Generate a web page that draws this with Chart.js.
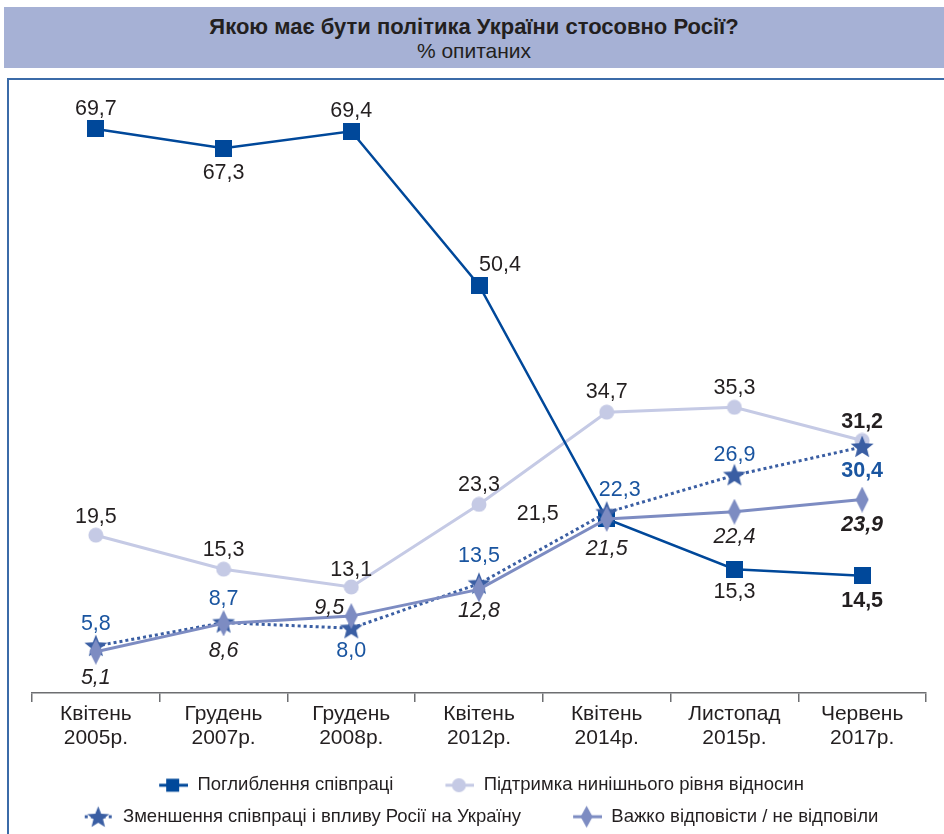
<!DOCTYPE html>
<html>
<head>
<meta charset="utf-8">
<script src="https://cdn.jsdelivr.net/npm/chart.js@4.4.0/dist/chart.umd.min.js"></script>
<style>
    html, body { margin: 0; padding: 0; background: #fff; }
    #page { position: relative; width: 944px; height: 834px; overflow: hidden; font-family: 'Liberation Sans', Arial, sans-serif; color: #231f20; }
    #head { position: absolute; left: 4px; top: 7px; width: 940px; height: 61px; background: #a6b1d5; text-align: center; }
    #head .t { position: absolute; left: 0; right: 0; top: 8px; font-weight: bold; font-size: 22px; line-height: 24px; }
    #head .s { position: absolute; left: 0; right: 0; top: 32px; font-size: 21px; line-height: 24px; }
    #frame { position: absolute; left: 7px; top: 78px; width: 980px; height: 820px; border-left: 2px solid #3b6ba8; border-top: 2px solid #3b6ba8; }
    #wrap { position: absolute; left: 0; top: 0; width: 944px; height: 836px; }
</style>
</head>
<body>
<div id="page">
    <div id="head">
        <div class="t">Якою має бути політика України стосовно Росії?</div>
        <div class="s">% опитаних</div>
    </div>
    <div id="frame"></div>
    <div id="wrap"><canvas id="policyChart"></canvas></div>
</div>
<script>
// --- DATA ---
const categories = [
    ['Квітень', '2005р.'], ['Грудень', '2007р.'], ['Грудень', '2008р.'], ['Квітень', '2012р.'],
    ['Квітень', '2014р.'], ['Листопад', '2015р.'], ['Червень', '2017р.']
];
const deepenCoop = [69.7, 67.3, 69.4, 50.4, 21.5, 15.3, 14.5];
const keepLevel = [19.5, 15.3, 13.1, 23.3, 34.7, 35.3, 31.2];
const reduceCoop = [5.8, 8.7, 8.0, 13.5, 22.3, 26.9, 30.4];
const hardToSay = [5.1, 8.6, 9.5, 12.8, 21.5, 22.4, 23.9];
const seriesNames = [
    'Поглиблення співпраці',
    'Підтримка нинішнього рівня відносин',
    'Зменшення співпраці і впливу Росії на Україну',
    'Важко відповісти / не відповіли'
];

const C_DEEP = '#00489a';
const C_KEEP = '#c5cae5';
const C_REDUCE = '#3a5ea3';
const C_HARD = '#7d8cc2';
const TEXT = '#231f20';
const FONT = "'Liberation Sans', Arial, sans-serif";

// --- marker shapes drawn into small canvases (used as pointStyle) ---
function makeCanvas(w, h, draw) {
    const c = document.createElement('canvas');
    c.width = w; c.height = h;
    draw(c.getContext('2d'));
    return c;
}
function square(ctx, cx, cy, s, color) {
    ctx.fillStyle = color;
    ctx.fillRect(cx - s / 2, cy - s / 2, s, s);
}
function circle(ctx, cx, cy, r, color) {
    ctx.fillStyle = color;
    ctx.beginPath(); ctx.arc(cx, cy, r, 0, Math.PI * 2); ctx.fill();
}
function star(ctx, cx, cy, ro, ri, color) {
    ctx.fillStyle = color;
    ctx.beginPath();
    for (let i = 0; i < 10; i++) {
        const r = i % 2 ? ri : ro;
        const a = -Math.PI / 2 + i * Math.PI / 5;
        ctx.lineTo(cx + r * Math.cos(a), cy + r * Math.sin(a));
    }
    ctx.closePath(); ctx.fill();
}
function diamond(ctx, cx, cy, w, h, color) {
    ctx.fillStyle = color;
    ctx.beginPath();
    ctx.moveTo(cx, cy - h / 2); ctx.lineTo(cx + w / 2, cy);
    ctx.lineTo(cx, cy + h / 2); ctx.lineTo(cx - w / 2, cy);
    ctx.closePath(); ctx.fill();
}

const ptSquare = makeCanvas(17, 17, ctx => square(ctx, 8.5, 8.5, 17, C_DEEP));
const ptCircle = makeCanvas(16, 16, ctx => circle(ctx, 8, 8, 7.5, C_KEEP));
const ptStar = makeCanvas(26, 26, ctx => star(ctx, 13, 13.5, 12, 5.2, C_REDUCE));
const ptDiamond = makeCanvas(14, 26, ctx => diamond(ctx, 7, 13, 13, 26, C_HARD));

// legend swatches: empty gap on the left, then line + marker
const LG_W = 68, LG_H = 24, LG_GAP = 37;
function legendSwatch(color, dashed, drawMarker) {
    return makeCanvas(LG_W, LG_H, ctx => {
        ctx.strokeStyle = color;
        ctx.lineWidth = 3;
        if (dashed) ctx.setLineDash([3, 3]);
        ctx.beginPath(); ctx.moveTo(LG_GAP + 2, LG_H / 2); ctx.lineTo(LG_W, LG_H / 2); ctx.stroke();
        ctx.setLineDash([]);
        drawMarker(ctx, LG_GAP + (LG_W - LG_GAP) / 2, LG_H / 2);
    });
}
const legendIcons = [
    legendSwatch(C_DEEP, false, (ctx, x, y) => square(ctx, x, y, 13, C_DEEP)),
    legendSwatch(C_KEEP, false, (ctx, x, y) => circle(ctx, x, y, 7, C_KEEP)),
    legendSwatch(C_REDUCE, true, (ctx, x, y) => star(ctx, x, y + 1, 11.5, 5, C_REDUCE)),
    legendSwatch(C_HARD, false, (ctx, x, y) => diamond(ctx, x, y, 12, 22, C_HARD))
];

// --- value labels: offset from the point, per series ---
const labelSpec = [
    { color: TEXT, italic: false, off: [[0, -22], [0, 23], [0, -22], [21, -22], [-69, -7], [0, 21], [0, 23]] },
    { color: TEXT, italic: false, off: [[0, -20], [0, -21], [0, -19], [0, -21], [0, -22], [0, -21], [0, -20]] },
    { color: '#1a55a0', italic: false, off: [[0, -24], [0, -26], [0, 21], [0, -30], [13, -24], [0, -22], [0, 22]] },
    { color: TEXT, italic: true, off: [[0, 24], [0, 26], [-22, -10], [0, 20], [0, 28], [0, 23], [0, 24]] }
];

const valueLabels = {
    id: 'valueLabels',
    afterDatasetsDraw(chart) {
        const ctx = chart.ctx;
        ctx.save();
        ctx.textAlign = 'center';
        ctx.textBaseline = 'middle';
        chart.data.datasets.forEach((ds, di) => {
            const spec = labelSpec[di];
            const meta = chart.getDatasetMeta(di);
            meta.data.forEach((pt, i) => {
                const last = i === ds.data.length - 1;
                ctx.font = (spec.italic ? 'italic ' : '') + (last ? 'bold ' : '') + '21.5px ' + FONT;
                ctx.fillStyle = spec.color;
                const txt = ds.data[i].toFixed(1).replace('.', ',');
                // +2: canvas "middle" sits a little above the digits' visual centre
                ctx.fillText(txt, pt.x + spec.off[i][0], pt.y + spec.off[i][1] + 2);
            });
        });
        ctx.restore();
    }
};

// the swatches carry an empty strip on their left; pull the legend rows back to centre
const legendShift = {
    id: 'legendShift',
    afterLayout(chart) {
        chart.legend.left -= 17;
        chart.legend.right -= 17;
    }
};

const ctxPolicy = document.getElementById('policyChart').getContext('2d');
new Chart(ctxPolicy, {
    type: 'line',
    data: {
        labels: categories,
        datasets: [
            {
                label: seriesNames[0],
                data: deepenCoop,
                borderColor: C_DEEP,
                borderWidth: 2.5,
                pointStyle: ptSquare,
                pointRadius: 9,
                order: 2
            },
            {
                label: seriesNames[1],
                data: keepLevel,
                borderColor: C_KEEP,
                borderWidth: 3,
                pointStyle: ptCircle,
                pointRadius: 8,
                order: 3
            },
            {
                label: seriesNames[2],
                data: reduceCoop,
                borderColor: C_REDUCE,
                borderWidth: 3,
                borderDash: [3, 3],
                pointStyle: ptStar,
                pointRadius: 11,
                order: 1
            },
            {
                label: seriesNames[3],
                data: hardToSay,
                borderColor: C_HARD,
                borderWidth: 3,
                pointStyle: ptDiamond,
                pointRadius: 11,
                order: 0
            }
        ]
    },
    options: {
        responsive: true,
        maintainAspectRatio: false,
        animation: false,
        layout: { padding: { left: 32, right: 18, top: 86, bottom: 0 } },
        plugins: {
            tooltip: { enabled: false },
            legend: {
                position: 'bottom',
                labels: {
                    usePointStyle: true,
                    pointStyleWidth: LG_W,
                    padding: 13,
                    color: TEXT,
                    font: { family: FONT, size: 18.5 },
                    generateLabels: chart => chart.data.datasets.map((ds, i) => ({
                        text: ds.label,
                        pointStyle: legendIcons[i],
                        fillStyle: ds.borderColor,
                        strokeStyle: ds.borderColor,
                        lineWidth: 0,
                        fontColor: TEXT,
                        hidden: false,
                        datasetIndex: i
                    }))
                }
            }
        },
        scales: {
            x: {
                offset: true,
                grid: { offset: true, drawOnChartArea: false, drawTicks: true, tickLength: 9, color: '#6d6e71', lineWidth: 1.5 },
                border: { display: true, color: '#6d6e71', width: 1.5 },
                ticks: { color: TEXT, padding: 0, maxRotation: 0, autoSkip: false, font: { family: FONT, size: 21, lineHeight: '24px' } },
                afterFit: scale => { scale.height += 13; }
            },
            y: {
                display: false,
                min: 0,
                max: 75
            }
        }
    },
    plugins: [valueLabels, legendShift]
});
</script>
</body>
</html>
